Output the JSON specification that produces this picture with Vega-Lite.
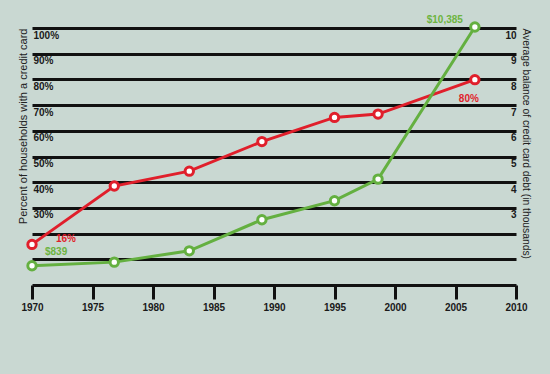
{
  "$schema": "https://vega.github.io/schema/vega-lite/v6.json",
  "width": 484,
  "height": 257,
  "autosize": {"type": "none"},
  "padding": {"left": 32, "top": 28, "right": 34, "bottom": 89},
  "background": "#c9d8d2",
  "config": {"view": {"stroke": null}, "font": "Liberation Sans"},
  "datasets": {
    "households": [
      {"year": 1970, "pct": 15.8, "label": "16%"},
      {"year": 1976.8, "pct": 38.5, "label": ""},
      {"year": 1983, "pct": 44.3, "label": ""},
      {"year": 1989, "pct": 55.8, "label": ""},
      {"year": 1995, "pct": 65.2, "label": ""},
      {"year": 1998.6, "pct": 66.5, "label": ""},
      {"year": 2006.6, "pct": 79.9, "label": "80%"}
    ],
    "balance": [
      {"year": 1970, "thousands": 0.75, "label": "$839"},
      {"year": 1976.8, "thousands": 0.89, "label": ""},
      {"year": 1983, "thousands": 1.33, "label": ""},
      {"year": 1989, "thousands": 2.54, "label": ""},
      {"year": 1995, "thousands": 3.28, "label": ""},
      {"year": 1998.6, "thousands": 4.12, "label": ""},
      {"year": 2006.6, "thousands": 10.04, "label": "$10,385"}
    ]
  },
  "layer": [
    {
      "data": {"name": "households"},
      "encoding": {
        "x": {
          "field": "year", "type": "quantitative",
          "scale": {"domain": [1970, 2010], "nice": false, "zero": false},
          "axis": {
            "values": [1970, 1975, 1980, 1985, 1990, 1995, 2000, 2005, 2010],
            "format": "d", "title": null, "grid": false,
            "domainColor": "#111", "domainWidth": 3,
            "tickColor": "#111", "tickWidth": 3, "tickSize": 14,
            "labelPadding": 3, "labelFlush": false,
            "labelFontWeight": "bold", "labelFontSize": 10, "labelColor": "#1a1a1a"
          }
        },
        "y": {
          "field": "pct", "type": "quantitative",
          "scale": {"domain": [0, 100], "nice": false},
          "axis": {
            "orient": "left",
            "values": [10, 20, 30, 40, 50, 60, 70, 80, 90, 100],
            "grid": true, "gridColor": "#111", "gridWidth": 3, "gridOpacity": 1,
            "domain": false, "ticks": false,
            "labelAlign": "left", "labelBaseline": "top", "labelPadding": -1, "labelOffset": 2,
            "labelFontWeight": "bold", "labelFontSize": 10, "labelColor": "#1a1a1a",
            "labelExpr": "datum.value >= 30 ? datum.value + '%' : ''",
            "title": "Percent of households with a credit card",
            "titleFontWeight": "normal", "titleFontSize": 11, "titleColor": "#222",
            "titleAnchor": "end", "titlePadding": 4
          }
        }
      },
      "layer": [
        {"mark": {"type": "line", "color": "#e01f2b", "strokeWidth": 3}},
        {"mark": {"type": "point", "filled": true, "fill": "white", "stroke": "#e01f2b", "strokeWidth": 3, "size": 70, "opacity": 1}},
        {
          "transform": [{"filter": "datum.year == 1970"}],
          "mark": {"type": "text", "align": "left", "baseline": "middle", "dx": 24, "dy": -5, "fontWeight": "bold", "fontSize": 10, "color": "#e01f2b"},
          "encoding": {"text": {"field": "label"}}
        },
        {
          "transform": [{"filter": "datum.year > 2000"}],
          "mark": {"type": "text", "align": "center", "baseline": "middle", "dx": -6, "dy": 19, "fontWeight": "bold", "fontSize": 10, "color": "#e01f2b"},
          "encoding": {"text": {"field": "label"}}
        }
      ]
    },
    {
      "data": {"name": "balance"},
      "encoding": {
        "x": {"field": "year", "type": "quantitative", "scale": {"domain": [1970, 2010], "nice": false, "zero": false}},
        "y": {
          "field": "thousands", "type": "quantitative",
          "scale": {"domain": [0, 10], "nice": false},
          "axis": {
            "orient": "right",
            "values": [3, 4, 5, 6, 7, 8, 9, 10],
            "grid": false, "domain": false, "ticks": false,
            "labelAlign": "right", "labelBaseline": "top", "labelPadding": 0, "labelOffset": 2,
            "labelFontWeight": "bold", "labelFontSize": 10, "labelColor": "#1a1a1a",
            "title": "Average balance of credit card debt (in thousands)",
            "titleFontWeight": "normal", "titleFontSize": 10.3, "titleColor": "#222",
            "titleAnchor": "end", "titleAngle": 90, "titleAlign": "left", "titlePadding": 4
          }
        }
      },
      "layer": [
        {"mark": {"type": "line", "color": "#64b040", "strokeWidth": 3}},
        {"mark": {"type": "point", "filled": true, "fill": "white", "stroke": "#64b040", "strokeWidth": 3, "size": 70, "opacity": 1}},
        {
          "transform": [{"filter": "datum.year == 1970"}],
          "mark": {"type": "text", "align": "left", "baseline": "middle", "dx": 13, "dy": -14, "fontWeight": "bold", "fontSize": 10, "color": "#6db43f"},
          "encoding": {"text": {"field": "label"}}
        },
        {
          "transform": [{"filter": "datum.year > 2000"}],
          "mark": {"type": "text", "align": "right", "baseline": "middle", "dx": -12, "dy": -7, "fontWeight": "bold", "fontSize": 10, "color": "#6db43f"},
          "encoding": {"text": {"field": "label"}}
        }
      ]
    }
  ],
  "resolve": {"scale": {"y": "independent"}}
}
